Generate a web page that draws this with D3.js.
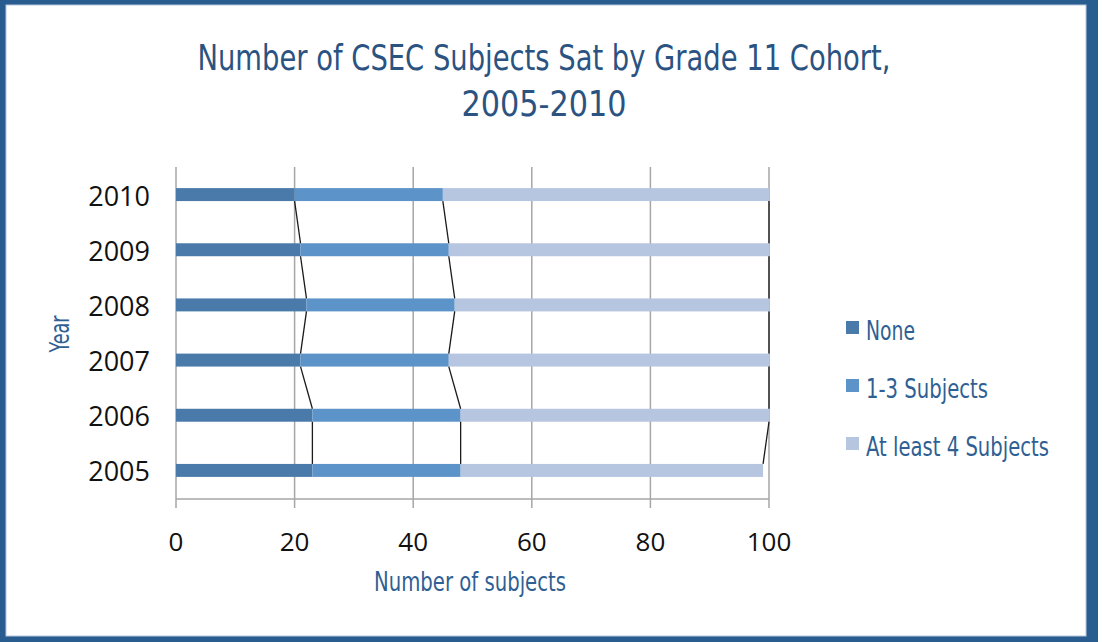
<!DOCTYPE html>
<html><head><meta charset="utf-8">
<script src="https://cdn.jsdelivr.net/npm/d3@7"></script>
<style>html,body{margin:0;padding:0;background:#fff}svg{display:block}</style>
</head><body>
<script>
const years = ["2005","2006","2007","2008","2009","2010"];
const none = [23, 23, 21, 22, 21, 20];
const oneToThree = [25, 25, 25, 25, 25, 25];
const atLeastFour = [51, 52, 54, 53, 54, 55];
const seriesNames = ["None", "1-3 Subjects", "At least 4 Subjects"];
const seriesColors = ["#4a7aaa", "#5c93c8", "#b6c5e0"];
const xTicks = [0, 20, 40, 60, 80, 100];
const titleLines = ["Number of CSEC Subjects Sat by Grade 11 Cohort,", "2005-2010"];
const xTitle = "Number of subjects";
const yTitle = "Year";

const W = 1102, H = 642;
const condensed = "'DejaVu Sans Condensed','DejaVu Sans',sans-serif";
const svg = d3.select("body").append("svg").attr("width", W).attr("height", H);

function cond(sel) {
  return sel.attr("font-family", condensed).style("font-stretch", "condensed");
}

svg.append("rect").attr("width", W).attr("height", H).attr("fill", "#ffffff");
svg.append("rect").attr("x", 0).attr("y", 0).attr("width", 1098).attr("height", H).attr("fill", "#295d90");
svg.append("rect").attr("x", 6).attr("y", 5).attr("width", 1080).attr("height", 631)
  .attr("fill", "#fff").attr("stroke", "#b9c7dc").attr("stroke-width", 1);

const x = d3.scaleLinear().domain([0, 100]).range([176, 769]);
const y = d3.scaleBand().domain(years).range([498, 167]).paddingInner(0.765).paddingOuter(0.3825);

const data = years.map((yr, i) => ({year: yr, vals: [none[i], oneToThree[i], atLeastFour[i]]}));
const stacked = d3.stack().keys([0,1,2]).value((d, k) => d.vals[k])(data);

// gridlines
const g = svg.append("g");
g.selectAll(".grid").data(xTicks).join("line")
  .attr("x1", d => x(d)).attr("x2", d => x(d))
  .attr("y1", 167).attr("y2", 508)
  .attr("stroke", "#a6a6a6").attr("stroke-width", 1.5);
g.append("line").attr("x1", x(0)).attr("x2", x(100)).attr("y1", 499).attr("y2", 499)
  .attr("stroke", "#a6a6a6").attr("stroke-width", 1.5);

// bars
stacked.forEach((s, k) => {
  g.selectAll(".bar" + k).data(s).join("rect")
    .attr("x", d => x(d[0])).attr("width", d => x(d[1]) - x(d[0]))
    .attr("y", d => y(d.data.year)).attr("height", y.bandwidth())
    .attr("fill", seriesColors[k]);
});

// series lines
stacked.forEach((s, k) => {
  for (let i = 0; i < s.length - 1; i++) {
    const a = s[i], b = s[i + 1];
    g.append("line")
      .attr("x1", x(a[1])).attr("y1", y(a.data.year))
      .attr("x2", x(b[1])).attr("y2", y(b.data.year) + y.bandwidth())
      .attr("stroke", "#1a1a1a").attr("stroke-width", 1.3);
  }
});

// x tick labels
g.selectAll(".xl").data(xTicks).join("text")
  .attr("x", d => x(d)).attr("y", 551).attr("text-anchor", "middle")
  .attr("font-family", "'Open Sans',sans-serif").attr("font-size", 26).attr("fill", "#111")
  .text(d => d);

// y tick labels
g.selectAll(".yl").data(years).join("text")
  .attr("x", 150).attr("y", d => y(d) + y.bandwidth() / 2 + 11).attr("text-anchor", "end")
  .attr("font-family", "'Open Sans',sans-serif").attr("font-size", 27).attr("fill", "#111")
  .text(d => d);

// title
const titleW = [693, 165];
cond(svg.selectAll(".title").data(titleLines).join("text"))
  .attr("x", 544).attr("y", (d, i) => 70 + i * 46).attr("text-anchor", "middle")
  .attr("font-size", 36).attr("fill", "#2b5381")
  .attr("textLength", (d, i) => titleW[i]).attr("lengthAdjust", "spacingAndGlyphs")
  .text(d => d);

// axis titles
cond(svg.append("text")).attr("x", 470).attr("y", 591).attr("text-anchor", "middle")
  .attr("font-size", 26).attr("fill", "#2f5f93")
  .attr("textLength", 192).attr("lengthAdjust", "spacingAndGlyphs").text(xTitle);
cond(svg.append("text")).attr("transform", "translate(69,334) rotate(-90)").attr("text-anchor", "middle")
  .attr("font-size", 26).attr("fill", "#2f5f93")
  .attr("textLength", 37).attr("lengthAdjust", "spacingAndGlyphs").text(yTitle);

// legend
const legW = [49, 122, 183];
const leg = svg.append("g");
seriesNames.forEach((n, k) => {
  const cy = 331 + k * 58;
  leg.append("rect").attr("x", 846).attr("y", cy - 10).attr("width", 13).attr("height", 13).attr("fill", seriesColors[k]);
  cond(leg.append("text")).attr("x", 866).attr("y", cy + 9).attr("font-size", 26)
    .attr("fill", "#2f5f93").attr("textLength", legW[k]).attr("lengthAdjust", "spacingAndGlyphs").text(n);
});
</script>
</body></html>
